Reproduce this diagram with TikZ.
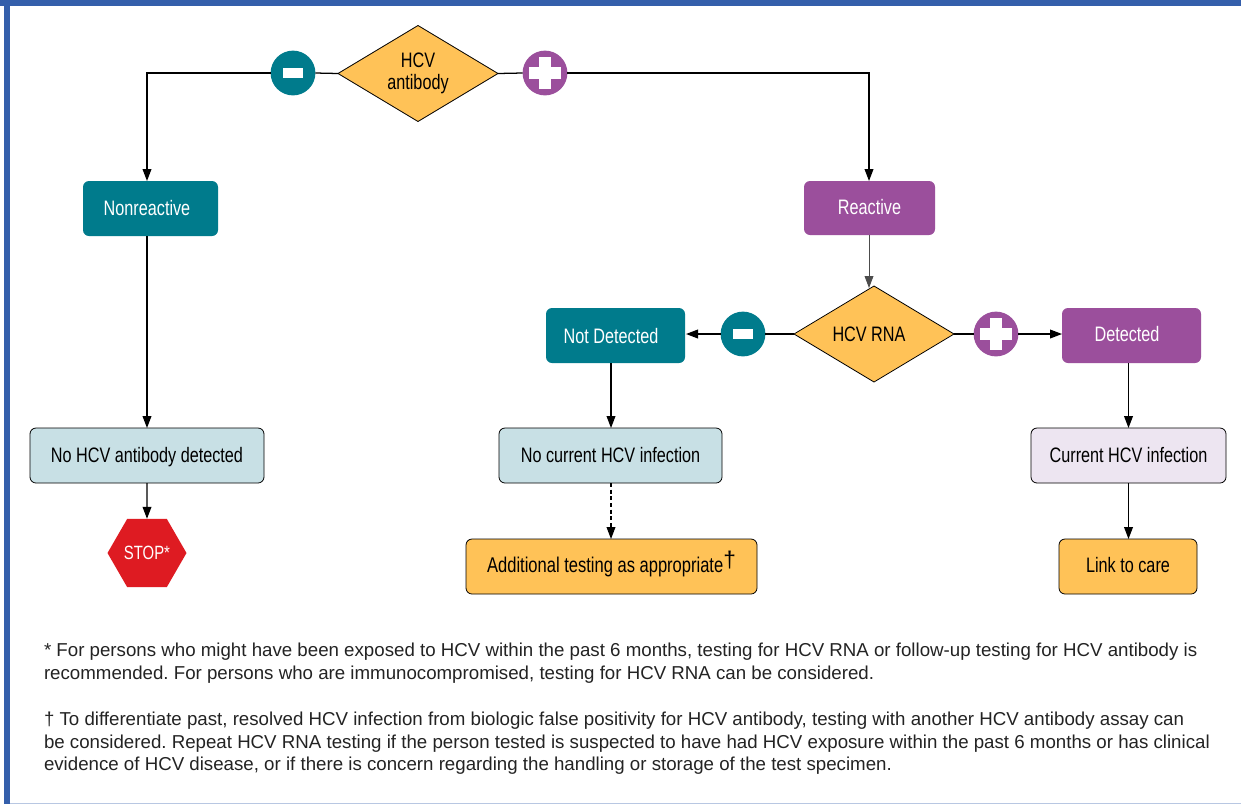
\documentclass[tikz,border=0pt]{standalone}
\usepackage{fontspec}
\usepackage{xcolor}
\usetikzlibrary{arrows.meta,shapes.geometric}
\setmainfont{Liberation Sans}
\newfontfamily\condfont[FakeStretch=0.775]{Liberation Sans}
\newfontfamily\plainfont{Liberation Sans}
\definecolor{tealc}{HTML}{007B8C}
\definecolor{purplec}{HTML}{9B4F9C}
\definecolor{orangec}{HTML}{FFC257}
\definecolor{lightblue}{HTML}{C8E0E5}
\definecolor{lightpurple}{HTML}{EDE5F1}
\definecolor{stopred}{HTML}{DE1B22}
\definecolor{framec}{HTML}{345FAB}
\definecolor{noteink}{HTML}{232323}
\frenchspacing
\tikzset{
  basebox/.style={rectangle,rounded corners=4.5pt,font=\condfont\fontsize{15.7pt}{17pt}\selectfont,align=center,inner sep=0pt,outer sep=0pt,text height=10.5pt,text depth=0pt},
  tealbox/.style={basebox,fill=tealc,text=white},
  purplebox/.style={basebox,fill=purplec,text=white},
  bluebox/.style={basebox,fill=lightblue,draw=black,line width=.6pt,text=black},
  lilacbox/.style={basebox,fill=lightpurple,draw=black,line width=.6pt,text=black},
  orangebox/.style={basebox,fill=orangec,draw=black,line width=.6pt,text=black},
  decision/.style={diamond,aspect=1.67,fill=orangec,draw=black,line width=.6pt,inner sep=0pt,outer sep=0pt,minimum width=120pt,minimum height=72pt,font=\condfont\fontsize{15.7pt}{16.8pt}\selectfont,align=center},
  sign/.style={circle,minimum size=33.6pt,inner sep=0pt,outer sep=0pt},
  minussign/.style={sign,fill=tealc,path picture={\fill[white] ([xshift=-7.5pt,yshift=-3.4pt]path picture bounding box.center) rectangle ++(15pt,6.8pt);}},
  plussign/.style={sign,fill=purplec,path picture={
    \fill[white] ([xshift=-12.3pt,yshift=-4.8pt]path picture bounding box.center) rectangle ([xshift=12.3pt,yshift=4.8pt]path picture bounding box.center);
    \fill[white] ([xshift=-4.8pt,yshift=-12.3pt]path picture bounding box.center) rectangle ([xshift=4.8pt,yshift=12.3pt]path picture bounding box.center);}},
  link/.style={black,line width=.95pt},
  arr/.style={link,-{Triangle[length=9pt,width=6.6pt]}},
  note/.style={anchor=base west,inner sep=0pt,outer sep=0pt,text=noteink,font=\fontsize{14.02pt}{16pt}\selectfont},
}
\begin{document}
\begin{tikzpicture}[x=.75pt,y=-.75pt]
\useasboundingbox (0,0) rectangle (1241,804);
\fill[white] (0,0) rectangle (1241,804);
% frame
\fill[framec] (0,0) rectangle (1241,5.5);
\fill[framec] (4,0) rectangle (9.5,804);
\fill[framec!35] (9.5,802.5) rectangle (1241,804);
% decisions
\node[decision] (d1) at (418,73.5) {HCV\\antibody};
\node[decision] (d2) at (874,334) {\hspace*{-7.5pt}HCV RNA};
% signs
\node[minussign] (m1) at (293,73) {};
\node[plussign] (p1) at (545,73) {};
\node[minussign] (m2) at (743,334) {};
\node[plussign] (p2) at (996,334) {};
% boxes
\node[tealbox,minimum width=101.25pt,minimum height=41.25pt] (nr) at (150.5,208.5) {\hspace*{-5.25pt}Nonreactive};
\node[purplebox,minimum width=98.25pt,minimum height=40.5pt] (re) at (869.5,208) {\raisebox{.3pt}{Reactive}};
\node[tealbox,minimum width=104.25pt,minimum height=41.25pt] (nd) at (615.5,335.5) {\hspace*{-6.75pt}\raisebox{-.4pt}{Not Detected}};
\node[purplebox,minimum width=104.25pt,minimum height=41.25pt] (de) at (1131.5,335.5) {\hspace*{-6.75pt}\raisebox{.6pt}{Detected}};
\node[bluebox,minimum width=175.5pt,minimum height=41.25pt] (nh) at (147,455.5) {No HCV antibody detected};
\node[bluebox,minimum width=167.25pt,minimum height=41.25pt] (nc) at (610.5,455.5) {No current HCV infection};
\node[lilacbox,minimum width=146.25pt,minimum height=41.25pt] (cu) at (1128.5,455.5) {Current HCV infection};
\node[orangebox,minimum width=218.25pt,minimum height=41.25pt] (ad) at (611.5,566.5) {\raisebox{.6pt}{\fontsize{16pt}{17pt}\selectfont Additional testing as appropriate\raisebox{4pt}{\plainfont\fontsize{17pt}{17pt}\selectfont †}}};
\node[orangebox,minimum width=103.5pt,minimum height=41.25pt] (lc) at (1128,566.5) {\raisebox{.6pt}{Link to care}};
\node[regular polygon,regular polygon sides=6,minimum size=59.25pt,inner sep=0pt,outer sep=0pt,fill=stopred,text=white,font=\condfont\fontsize{14.4pt}{16pt}\selectfont] (st) at (147,553) {STOP*};
% connector anchors that sit off the centre of their boxes
\coordinate (nrtop) at (147,181);
\coordinate (nrbot) at (147,236);
\coordinate (nhtop) at (147,428);
\coordinate (retop) at (869,181);
\coordinate (rebot) at (869,235);
\coordinate (d2top) at (869,288);
\coordinate (ndbot) at (611,363);
\coordinate (nctop) at (611,428);
\coordinate (ncbot) at (611,483);
\coordinate (adtop) at (611,539);
\coordinate (debot) at (1128.5,363);
\coordinate (cutop) at (1128.5,428);
\coordinate (cubot) at (1128.5,483);
\coordinate (lctop) at (1128.5,539);
\coordinate (ndright) at (686,334);
\coordinate (deleft) at (1062,334);
% connectors
\draw[link] (d1.west) -- (m1.east);
\draw[arr] (m1.west) -| (nrtop);
\draw[link] (d1.east) -- (p1.west);
\draw[arr] (p1.east) -| (retop);
\draw[arr] (nrbot) -- (nhtop);
\draw[arr] (nh.south) -- (st.north);
\draw[arr,black!70,line width=.7pt] (rebot) -- (d2top);
\draw[link] (d2.west) -- (m2.east);
\draw[arr] (m2.west) -- (ndright);
\draw[link] (d2.east) -- (p2.west);
\draw[arr] (p2.east) -- (deleft);
\draw[arr] (ndbot) -- (nctop);
\draw[arr,dashed,dash pattern=on 3pt off 2pt] (ncbot) -- (adtop);
\draw[arr] (debot) -- (cutop);
\draw[arr] (cubot) -- (lctop);
% notes
\node[note] (n1) at (44,656) {* For persons who might have been exposed to HCV within the past 6 months, testing for HCV RNA or follow-up testing for HCV antibody is};
\node[note] (n2) at (44,679) {recommended. For persons who are immunocompromised, testing for HCV RNA can be considered.};
\node[note] (n3) at (44,725) {† To differentiate past, resolved HCV infection from biologic false positivity for HCV antibody, testing with another HCV antibody assay can};
\node[note] (n4) at (44,748) {be considered. Repeat HCV RNA testing if the person tested is suspected to have had HCV exposure within the past 6 months or has clinical};
\node[note] (n5) at (44,770) {evidence of HCV disease, or if there is concern regarding the handling or storage of the test specimen.};
\end{tikzpicture}
\end{document}
